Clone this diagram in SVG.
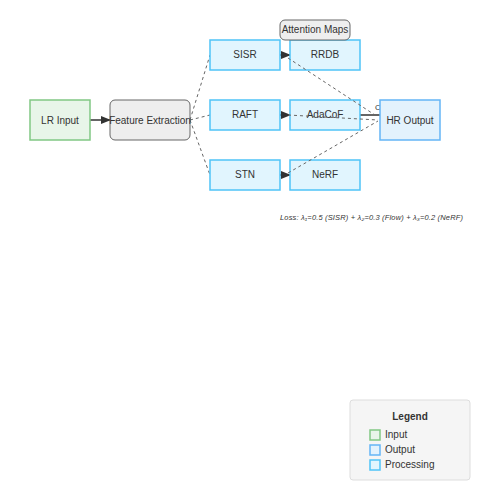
<svg xmlns="http://www.w3.org/2000/svg" width="500" height="500" viewBox="0 0 500 500">
<defs>
<marker id="arr" markerWidth="10" markerHeight="8" refX="9" refY="4" orient="auto" markerUnits="userSpaceOnUse">
<path d="M0,0 L10,4 L0,8 z" fill="#333"/>
</marker>
<style>
text{font-family:"Liberation Sans",Arial,sans-serif;fill:#333;}
.lbl{font-size:10px;text-anchor:middle;}
.proc{fill:#e1f5fe;stroke:#4fc3f7;stroke-width:1.5;}
.inp{fill:#e8f5e9;stroke:#81c784;stroke-width:1.5;}
.out{fill:#e3f2fd;stroke:#64b5f6;stroke-width:1.5;}
.gray{fill:#eeeeee;stroke:#666;stroke-width:1;}
.dash{stroke:#666;stroke-width:1;stroke-dasharray:3,3;fill:none;}
.solid{stroke:#333;stroke-width:1.5;fill:none;}
</style>
</defs>
<rect width="500" height="500" fill="#fff"/>
<text x="375" y="110" style="font-size:8px">Concat</text>
<g id="connectors">
<line class="solid" x1="90" y1="120" x2="110" y2="120" marker-end="url(#arr)"/>
<line class="dash" x1="190" y1="120" x2="210" y2="55"/>
<line class="dash" x1="190" y1="120" x2="210" y2="115"/>
<line class="dash" x1="190" y1="120" x2="210" y2="175"/>
<line class="solid" x1="280" y1="55" x2="290" y2="55" marker-end="url(#arr)"/>
<line class="solid" x1="280" y1="115" x2="290" y2="115" marker-end="url(#arr)"/>
<line class="solid" x1="280" y1="175" x2="290" y2="175" marker-end="url(#arr)"/>
<line class="solid" x1="360" y1="115" x2="380" y2="115"/>
</g>
<g id="lr-input"><rect class="inp" x="30" y="100" width="60" height="40"/><text class="lbl" x="60" y="124">LR Input</text></g>
<g id="feature-extraction"><rect class="gray" x="110" y="100" width="80" height="40" rx="5"/><text class="lbl" x="150" y="124">Feature Extraction</text></g>
<g id="sisr"><rect class="proc" x="210" y="40" width="70" height="30"/><text class="lbl" x="245" y="58">SISR</text></g>
<g id="raft"><rect class="proc" x="210" y="100" width="70" height="30"/><text class="lbl" x="245" y="118">RAFT</text></g>
<g id="stn"><rect class="proc" x="210" y="160" width="70" height="30"/><text class="lbl" x="245" y="178">STN</text></g>
<g id="rrdb"><rect class="proc" x="290" y="40" width="70" height="30"/><text class="lbl" x="325" y="58">RRDB</text></g>
<g id="adacof"><rect class="proc" x="290" y="100" width="70" height="30"/><text class="lbl" x="325" y="118">AdaCoF</text></g>
<g id="nerf"><rect class="proc" x="290" y="160" width="70" height="30"/><text class="lbl" x="325" y="178">NeRF</text></g>
<g id="hr-output"><rect class="out" x="380" y="100" width="60" height="40"/><text class="lbl" x="410" y="124">HR Output</text></g>
<g id="attention-maps"><rect class="gray" x="280" y="20" width="70" height="20" rx="5"/><text class="lbl" x="315" y="33">Attention Maps</text></g>
<g id="connectors-over">
<line class="dash" x1="288" y1="58" x2="378" y2="117"/>
<line class="dash" x1="288" y1="115" x2="378" y2="120"/>
<line class="dash" x1="288" y1="173" x2="378" y2="121"/>
</g>
<text x="280" y="220" textLength="183" lengthAdjust="spacing" style="font-size:7.5px;font-style:italic">Loss: λ₁=0.5 (SISR) + λ₂=0.3 (Flow) + λ₃=0.2 (NeRF)</text>
<g id="legend">
<rect x="350" y="400" width="120" height="80" rx="3" fill="#f5f5f5" stroke="#ddd"/>
<text x="410" y="420" style="font-size:10px;font-weight:bold;text-anchor:middle">Legend</text>
<rect class="inp" x="370" y="430" width="10" height="10" stroke-width="1"/>
<text x="385" y="438" style="font-size:10px">Input</text>
<rect class="out" x="370" y="445" width="10" height="10" stroke-width="1"/>
<text x="385" y="453" style="font-size:10px">Output</text>
<rect class="proc" x="370" y="460" width="10" height="10" stroke-width="1"/>
<text x="385" y="468" style="font-size:10px">Processing</text>
</g>
</svg>
